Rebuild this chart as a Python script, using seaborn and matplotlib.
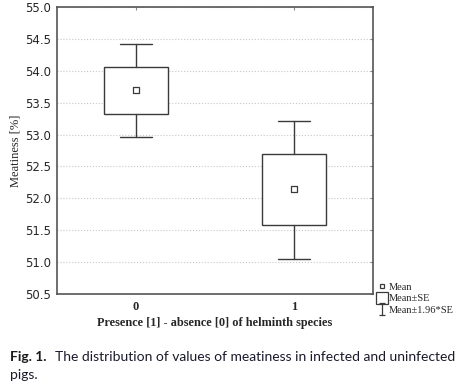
import numpy as np
import pandas as pd
import seaborn as sns
import matplotlib
matplotlib.use("Agg")
import matplotlib.pyplot as plt
from matplotlib.lines import Line2D
from matplotlib.path import Path

# ---- data ----
groups = ["0", "1"]
means = [53.70, 52.14]
se_low = [53.32, 51.58]
se_high = [54.06, 52.69]
ci_low = [52.96, 51.05]
ci_high = [54.42, 53.22]
yticks = [50.5, 51.0, 51.5, 52.0, 52.5, 53.0, 53.5, 54.0, 54.5, 55.0]

sns.set_style("white")
plt.rcParams['font.family'] = ['Liberation Serif', 'DejaVu Sans']

fig = plt.figure(figsize=(4.71, 3.87), dpi=100)
ax = fig.add_axes([0.121, 0.240, 0.671, 0.742])

edge = "#3a3a3a"
stats = []
for g, m, sl, sh, cl, ch in zip(groups, means, se_low, se_high, ci_low, ci_high):
    stats.append(dict(label=g, med=m, q1=sl, q3=sh, whislo=cl, whishi=ch, fliers=[]))
pos = np.arange(len(groups))
ax.bxp(stats, positions=pos, widths=0.4, capwidths=0.2, showfliers=False,
       patch_artist=True,
       boxprops=dict(edgecolor=edge, facecolor="white", linewidth=1.0),
       whiskerprops=dict(color=edge, linewidth=1.0),
       capprops=dict(color=edge, linewidth=1.0),
       medianprops=dict(linewidth=0))

df = pd.DataFrame({"x": pos, "mean": means})
sns.scatterplot(data=df, x="x", y="mean", marker="s", s=14, facecolor="white",
                edgecolor=edge, linewidth=0.9, ax=ax, zorder=5, legend=False)

ax.set_xlim(-0.5, 1.5)
ax.set_ylim(50.5, 55.0)
ax.set_xticks(pos)
ax.set_xticklabels(groups, fontsize=9, fontweight="bold")
ax.set_yticks(yticks)
ax.set_yticklabels([f"{v:.1f}" for v in yticks], fontsize=8.5, family="DejaVu Sans")
ax.tick_params(axis="both", direction="in", length=2, color="#888888",
               top=True, right=True, pad=5)
ax.tick_params(axis="y", pad=4)
ax.yaxis.grid(True, linestyle=":", color="#c8c8c8", linewidth=0.8)
ax.set_axisbelow(True)
for s in ax.spines.values():
    s.set_color("#555555")
    s.set_linewidth(1.2)

ax.set_xlabel("Presence [1] - absence [0] of helminth species", fontsize=8.8,
              fontweight="semibold", labelpad=3)
ax.set_ylabel("Meatiness [%]", fontsize=9, labelpad=3)

# legend
ibeam = Path([(-0.5, 1), (0.5, 1), (0, 1), (0, -1), (-0.5, -1), (0.5, -1)],
             [Path.MOVETO, Path.LINETO, Path.MOVETO, Path.LINETO, Path.MOVETO, Path.LINETO])
handles = [
    Line2D([], [], linestyle="none", marker="s", markersize=3.5, mfc="white", mec=edge, mew=0.9),
    Line2D([], [], linestyle="none", marker="s", markersize=8, mfc="white", mec=edge, mew=0.9),
    Line2D([], [], linestyle="none", marker=ibeam, markersize=9, mfc="none", mec=edge, mew=0.9),
]
labels = ["Mean", "Mean\u00b1SE", "Mean\u00b11.96*SE"]
fig.legend(handles, labels, loc="upper left", bbox_to_anchor=(0.803, 0.270),
           frameon=False, fontsize=7.5, handlelength=0.8, handletextpad=0.2,
           labelspacing=0.2, borderaxespad=0, borderpad=0)

# caption
fig.text(0.021, 0.068, "Fig. 1.", fontsize=10, fontweight="bold", family="Lato",
         va="baseline", color="#1a1a1a")
fig.text(0.117, 0.068, "The distribution of values of meatiness in infected and uninfected",
         fontsize=10, family="Lato", va="baseline", color="#1a1a2a")
fig.text(0.021, 0.020, "pigs.", fontsize=10, family="Lato", va="baseline", color="#1a1a2a")

fig.savefig("out.png", dpi=100)
